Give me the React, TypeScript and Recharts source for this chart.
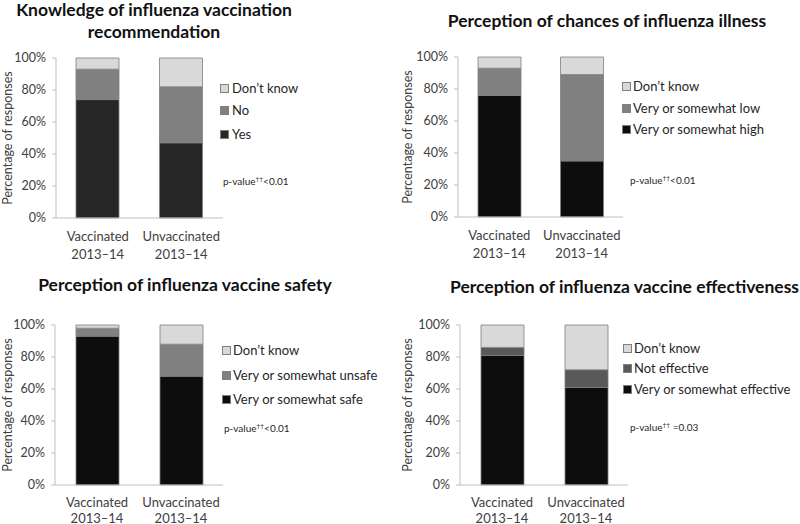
import { BarChart, Bar, XAxis, YAxis } from 'recharts'

const categories = ['Vaccinated', 'Unvaccinated']
const season = '2013–14'
const yTicks = [0, 20, 40, 60, 80, 100]

// Knowledge of recommendation
const knowledgeYes = [74, 47]
const knowledgeNo = [19, 35]
const knowledgeDontKnow = [7, 18]

// Chances of illness
const illnessHigh = [76, 35]
const illnessLow = [17, 54]
const illnessDontKnow = [7, 11]

// Vaccine safety
const safetySafe = [93, 68]
const safetyUnsafe = [5, 20]
const safetyDontKnow = [2, 12]

// Vaccine effectiveness
const effEffective = [81, 61]
const effNot = [5, 11]
const effDontKnow = [14, 28]

const FONT = 'Lato, "Liberation Sans", sans-serif'
const LIGHT = '#d9d9d9'
const MID = '#808080'

type Series = { name: string; values: number[]; color: string }

interface PanelProps {
  left: number
  top: number
  title: string[]
  titleX: number
  titleY: number
  titleAlign?: 'center' | 'left'
  series: Series[] // bottom to top
  plot: { l: number; r: number; t: number; b: number }
  legend: { sq: number; tx: number; ys: number[] } // ys top to bottom
  pval: { x: number; y: number; text: string }
  tickDy?: [number, number]
}

function CatTick({ x, y, payload, dys }: any) {
  return (
    <text x={x} y={y} textAnchor="middle" fontSize={13} fill="#404040" fontFamily={FONT}>
      <tspan x={x} dy={dys[0]}>{payload.value}</tspan>
      <tspan x={x} dy={dys[1]}>{season}</tspan>
    </text>
  )
}

function Panel(p: PanelProps) {
  const data = categories.map((c, i) => {
    const row: Record<string, string | number> = { cat: c }
    p.series.forEach((s) => (row[s.name] = s.values[i]))
    return row
  })
  const legendItems = [...p.series].reverse()
  return (
    <div style={{ position: 'absolute', left: p.left, top: p.top, width: 400, height: 262 }}>
      <BarChart
        width={400}
        height={262}
        data={data}
        barSize={43}
        margin={{ top: p.plot.t, right: 400 - p.plot.r, bottom: 0, left: 0 }}
      >
        <XAxis
          dataKey="cat"
          height={262 - p.plot.b}
          tickLine={false}
          axisLine={{ stroke: '#bfbfbf' }}
          tick={<CatTick dys={p.tickDy ?? [14.5, 18]} />}
          interval={0}
        />
        <YAxis
          type="number"
          width={p.plot.l}
          domain={[0, 100]}
          ticks={yTicks}
          tickFormatter={(v) => `${v}%`}
          axisLine={{ stroke: '#bfbfbf' }}
          tickLine={{ stroke: '#bfbfbf' }}
          tickSize={4}
          tickMargin={6}
          tick={{ fontSize: 12.5, fill: '#404040', fontFamily: FONT }}
          label={{
            value: 'Percentage of responses',
            angle: -90,
            position: 'insideLeft',
            offset: 8,
            style: { textAnchor: 'middle', fontSize: 12.5, fill: '#404040', fontFamily: FONT },
          }}
        />
        {p.series.map((s) => (
          <Bar
            key={s.name}
            dataKey={s.name}
            stackId="a"
            fill={s.color}
            stroke="#7f7f7f"
            strokeWidth={0.8}
            isAnimationActive={false}
          />
        ))}
      </BarChart>

      {p.title.map((line, i) => (
        <div
          key={line}
          style={{
            position: 'absolute',
            left: p.titleAlign === 'left' ? p.titleX : p.titleX - 250,
            width: p.titleAlign === 'left' ? undefined : 500,
            top: p.titleY + i * 22 - 9,
            height: 18,
            lineHeight: '18px',
            textAlign: p.titleAlign === 'left' ? 'left' : 'center',
            whiteSpace: 'nowrap',
            fontFamily: FONT,
            fontWeight: 700,
            fontSize: 17.5,
            color: '#111',
          }}
        >
          {line}
        </div>
      ))}

      {legendItems.map((s, i) => (
        <div key={s.name}>
          <div
            style={{
              position: 'absolute',
              left: p.legend.sq,
              top: p.legend.ys[i] - 4,
              width: 7,
              height: 7,
              background: s.color,
              border: '0.8px solid #7f7f7f',
            }}
          />
          <div
            style={{
              position: 'absolute',
              left: p.legend.tx,
              top: p.legend.ys[i] - 10,
              height: 20,
              lineHeight: '20px',
              whiteSpace: 'nowrap',
              fontFamily: FONT,
              fontSize: 13,
              color: '#262626',
            }}
          >
            {s.name}
          </div>
        </div>
      ))}

      <div
        style={{
          position: 'absolute',
          left: p.pval.x,
          top: p.pval.y - 8,
          height: 16,
          lineHeight: '16px',
          whiteSpace: 'nowrap',
          fontFamily: FONT,
          fontSize: 10,
          color: '#262626',
        }}
      >
        p-value<sup style={{ fontSize: 6.5 }}>††</sup>
        {p.pval.text}
      </div>
    </div>
  )
}

export default function App() {
  return (
    <div
      style={{
        position: 'absolute',
        left: 0,
        top: 0,
        width: 800,
        height: 524,
        background: '#fff',
        overflow: 'hidden',
      }}
    >
      <Panel
        left={0}
        top={0}
        title={['Knowledge of influenza vaccination', 'recommendation']}
        titleX={154}
        titleY={10}
        series={[
          { name: 'Yes', values: knowledgeYes, color: '#262626' },
          { name: 'No', values: knowledgeNo, color: MID },
          { name: 'Don’t know', values: knowledgeDontKnow, color: LIGHT },
        ]}
        plot={{ l: 56, r: 223, t: 58, b: 218 }}
        legend={{ sq: 220, tx: 232, ys: [88, 110, 134] }}
        pval={{ x: 223, y: 179, text: '<0.01' }}
      />
      <Panel
        left={400}
        top={0}
        title={['Perception of chances of influenza illness']}
        titleX={207}
        titleY={21}
        series={[
          { name: 'Very or somewhat high', values: illnessHigh, color: '#0d0d0d' },
          { name: 'Very or somewhat low', values: illnessLow, color: MID },
          { name: 'Don’t know', values: illnessDontKnow, color: LIGHT },
        ]}
        plot={{ l: 58, r: 223, t: 57, b: 217 }}
        legend={{ sq: 222, tx: 233, ys: [86, 108, 129] }}
        pval={{ x: 230, y: 178, text: '<0.01' }}
      />
      <Panel
        left={0}
        top={262}
        title={['Perception of influenza vaccine safety']}
        titleX={185}
        titleY={23}
        series={[
          { name: 'Very or somewhat safe', values: safetySafe, color: '#0d0d0d' },
          { name: 'Very or somewhat unsafe', values: safetyUnsafe, color: MID },
          { name: 'Don’t know', values: safetyDontKnow, color: LIGHT },
        ]}
        plot={{ l: 55, r: 223, t: 63, b: 223 }}
        legend={{ sq: 222, tx: 233, ys: [88, 113, 137] }}
        pval={{ x: 224, y: 164, text: '<0.01' }}
        tickDy={[13.5, 16]}
      />
      <Panel
        left={400}
        top={262}
        title={['Perception of influenza vaccine effectiveness']}
        titleX={50}
        titleY={25}
        titleAlign="left"
        series={[
          { name: 'Very or somewhat effective', values: effEffective, color: '#0d0d0d' },
          { name: 'Not effective', values: effNot, color: '#595959' },
          { name: 'Don’t know', values: effDontKnow, color: LIGHT },
        ]}
        plot={{ l: 60, r: 228, t: 63, b: 223 }}
        legend={{ sq: 223, tx: 234, ys: [86, 106, 127] }}
        pval={{ x: 230, y: 163, text: ' =0.03' }}
        tickDy={[13.5, 16]}
      />
    </div>
  )
}
